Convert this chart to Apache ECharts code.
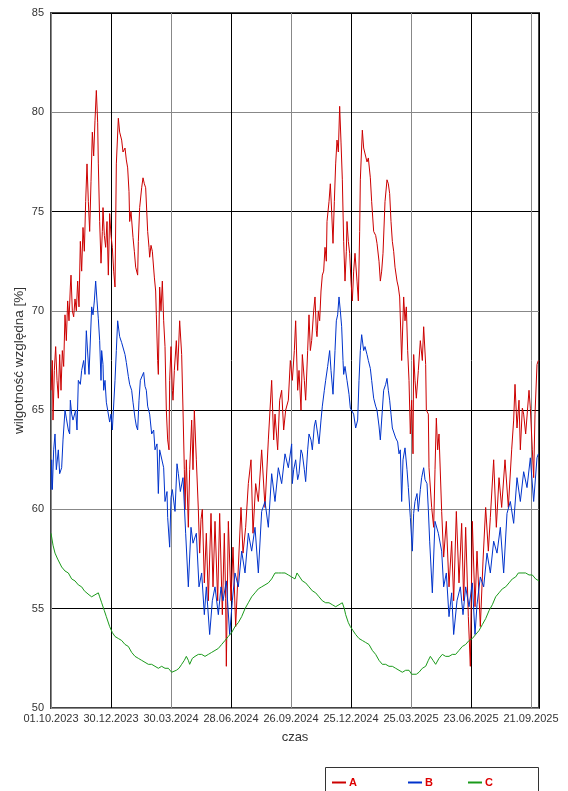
<!DOCTYPE html>
<html>
<head>
<meta charset="utf-8">
<script src="https://cdn.jsdelivr.net/npm/echarts@6/dist/echarts.min.js"></script>
<style>
  html, body { margin: 0; padding: 0; background: #fff; }
  #chart { width: 568px; height: 791px; }
</style>
</head>
<body>
<div id="chart"></div>
<script>
'use strict'
// x = days since 01.10.2023
var xTickLabels = ['01.10.2023', '30.12.2023', '30.03.2024', '28.06.2024', '26.09.2024', '25.12.2024', '25.03.2025', '23.06.2025', '21.09.2025'];

var aDays = [0, 2, 3, 5, 7, 9, 11, 13, 15, 17, 19, 21, 23, 25, 27, 29, 30, 32, 34, 36, 38, 40, 42, 44, 46, 48, 50, 52, 54, 56, 58, 60, 62, 64, 66, 68, 70, 71, 73, 75, 77, 78, 80, 82, 84, 86, 88, 90, 92, 94, 96, 98, 101, 103, 106, 108, 111, 113, 115, 117, 118, 120, 123, 125, 127, 130, 131, 133, 136, 138, 140, 142, 145, 147, 148, 150, 152, 155, 157, 158, 160, 161, 163, 165, 167, 169, 171, 173, 175, 177, 178, 180, 182, 183, 185, 188, 190, 193, 196, 198, 200, 201, 203, 206, 208, 211, 213, 215, 218, 221, 223, 225, 227, 230, 233, 236, 240, 243, 246, 250, 253, 257, 260, 262, 263, 266, 270, 273, 277, 281, 285, 288, 292, 296, 300, 303, 307, 311, 316, 321, 326, 331, 334, 336, 340, 343, 346, 349, 352, 356, 359,
  362, 365, 367, 370, 372, 375, 377, 380, 382, 385, 387, 389, 391, 394, 396, 398, 399, 401, 403, 405, 407, 409, 411, 413, 414, 417, 419, 421, 423, 425, 427, 429, 431, 433, 435, 437, 439, 441, 443, 444, 446, 448, 450, 452, 454, 456, 459, 461, 463, 464, 467, 469, 472, 474, 476, 479, 481, 484, 487, 489, 492, 494, 496, 498, 501, 504, 506, 508, 510, 512, 514, 516, 519, 521, 523, 526, 529, 531, 533, 535, 537, 539, 541, 543, 544, 546, 548, 551, 554, 557, 559, 562, 563, 566, 567, 571, 574, 576, 578, 580, 582, 586, 589, 593, 597, 601, 604, 608, 612, 616, 619, 622, 626, 629, 632, 636, 639, 644, 648, 652, 656, 659, 664, 668, 672, 676, 681, 686, 691, 694, 696, 699, 702, 704, 707, 709, 712, 714, 717, 719, 722, 724, 726, 729, 731];
var aVals = [66.0, 67.5, 64.5, 67.0, 68.2, 66.5, 65.6, 67.8, 66.0, 68.0, 67.2, 69.8, 68.5, 70.5, 69.5, 71.2, 71.8, 70.0, 69.7, 70.6, 70.0, 71.5, 70.2, 73.5, 72.0, 74.2, 73.0, 75.5, 77.4, 75.5, 74.0, 76.5, 79.0, 77.8, 79.6, 81.1, 79.5, 77.4, 74.5, 72.4, 74.0, 75.2, 73.8, 73.2, 74.5, 71.8, 74.9, 73.8, 73.2, 72.0, 71.2, 77.4, 79.7, 79.0, 78.6, 78.0, 78.2, 77.6, 77.2, 76.0, 74.5, 75.0, 73.7, 73.0, 72.2, 71.8, 73.5, 75.2, 76.2, 76.7, 76.4, 76.2, 74.0, 73.2, 72.7, 73.3, 73.0, 71.7, 71.0, 69.8, 67.5, 66.8, 71.2, 70.0, 71.5, 69.5, 68.2, 65.0, 63.5, 63.0, 66.5, 68.2, 66.0, 65.5, 67.0, 68.5, 67.0, 69.5, 67.8, 65.0, 62.0, 60.0, 62.5, 59.1, 62.0, 64.5, 62.0, 65.0, 62.5, 60.0, 57.8, 59.5, 60.0, 56.3, 58.8, 55.4, 59.8, 56.1, 59.4, 55.4, 59.8, 54.7, 58.8, 55.5, 52.1, 59.4, 55.4, 58.1, 54.1, 57.1, 60.1, 57.8, 59.1, 61.3, 62.5, 58.8, 61.3, 60.4, 63.0, 60.1, 63.5, 66.5, 63.5, 64.8, 63.0, 65.5, 66.0, 64.0, 65.0, 65.5, 67.5,
  66.5, 68.0, 69.5, 66.0, 67.0, 65.0, 67.8, 66.5, 65.5, 68.0, 69.8, 68.0, 68.5, 70.0, 70.7, 69.0, 68.7, 70.0, 69.5, 71.0, 71.8, 72.0, 73.2, 72.5, 74.5, 75.5, 76.4, 75.0, 73.4, 75.5, 77.4, 78.6, 78.0, 80.3, 78.5, 76.6, 73.5, 71.5, 73.0, 74.5, 73.5, 72.9, 71.5, 70.5, 72.0, 72.9, 71.5, 70.5, 74.0, 76.6, 79.1, 78.2, 78.1, 77.5, 77.7, 76.7, 75.5, 74.0, 73.8, 73.4, 72.5, 71.5, 72.0, 72.9, 75.5, 76.6, 76.4, 75.9, 74.5, 73.5, 73.0, 72.2, 71.5, 71.2, 70.7, 67.5, 70.7, 69.5, 70.2, 68.0, 66.5, 63.8, 65.5, 62.8, 67.8, 66.5, 65.6, 67.0, 68.5, 67.5, 69.2, 67.3, 65.0, 64.8, 62.1, 60.1, 59.1, 62.0, 64.6, 63.0, 63.8, 59.9, 57.6, 59.4, 56.1, 58.4, 55.4, 59.9, 56.3, 59.3, 55.4, 59.1, 54.6, 52.1, 59.4, 55.1, 57.9, 54.1, 57.4, 60.1, 57.9, 59.6, 62.5, 59.1, 61.6, 60.1, 62.5, 60.1, 63.0, 64.5, 66.3, 64.1, 65.5, 63.0, 65.1, 64.8, 63.8, 63.8, 66.0, 65.1, 63.0, 61.6, 64.8, 67.3, 67.5];

var bDays = [0, 1, 2, 4, 6, 8, 11, 13, 16, 18, 21, 23, 26, 28, 29, 31, 33, 34, 37, 39, 41, 44, 46, 49, 51, 53, 54, 57, 59, 61, 63, 65, 67, 69, 71, 73, 75, 76, 78, 79, 81, 83, 85, 88, 90, 92, 94, 96, 98, 100, 101, 103, 106, 108, 111, 113, 116, 118, 121, 123, 126, 128, 130, 132, 134, 136, 139, 141, 143, 145, 148, 151, 154, 156, 159, 161, 163, 166, 169, 171, 174, 175, 178, 180, 182, 186, 189, 191, 194, 196, 198, 202, 206, 210, 213, 218, 222, 226, 230, 233, 238, 242, 246, 251, 255, 258, 263, 268, 272, 276, 281, 286, 291, 296, 301, 306, 311, 316, 321, 326, 331, 336, 341, 346, 351, 356, 361,
  362, 364, 367, 370, 372, 375, 377, 380, 382, 385, 387, 390, 392, 395, 397, 400, 402, 405, 407, 410, 412, 415, 418, 420, 423, 426, 428, 430, 432, 434, 436, 438, 439, 441, 444, 447, 449, 452, 454, 457, 460, 462, 464, 466, 469, 471, 474, 476, 479, 481, 484, 487, 489, 492, 494, 497, 499, 502, 504, 506, 508, 510, 512, 515, 517, 520, 522, 524, 526, 528, 531, 534, 536, 539, 542, 544, 546, 549, 551, 554, 556, 559, 561, 564, 566, 568, 572, 576, 581, 586, 589, 593, 597, 601, 604, 609, 614, 618, 622, 627, 632, 636, 639, 644, 649, 654, 659, 664, 669, 674, 679, 684, 689, 694, 699, 704, 709, 714, 719, 724, 729, 731];
var bVals = [61.0, 62.5, 61.0, 63.0, 63.8, 62.0, 63.0, 61.8, 62.1, 63.5, 65.0, 64.6, 64.0, 63.8, 65.5, 64.8, 64.5, 64.5, 65.0, 64.0, 66.5, 66.3, 67.0, 67.5, 66.8, 69.0, 68.9, 66.8, 66.7, 70.2, 69.8, 70.5, 71.5, 70.5, 69.6, 68.5, 66.5, 68.0, 67.3, 66.0, 66.5, 65.4, 65.0, 64.4, 64.8, 64.0, 63.9, 66.5, 68.0, 69.5, 69.5, 68.7, 68.4, 68.3, 67.8, 67.4, 66.7, 66.3, 66.0, 65.4, 64.6, 64.2, 64.0, 65.5, 66.5, 66.6, 66.9, 66.2, 66.0, 65.2, 64.8, 63.8, 64.0, 63.0, 63.3, 60.8, 63.0, 63.0, 62.1, 60.4, 60.9, 59.6, 58.1, 60.6, 61.0, 59.9, 62.3, 61.8, 60.9, 61.0, 61.6, 58.8, 56.1, 59.1, 58.3, 58.8, 56.1, 56.8, 54.7, 56.1, 53.7, 55.4, 56.1, 54.7, 56.1, 55.4, 56.4, 53.7, 55.4, 56.8, 56.1, 57.9, 56.8, 58.8, 57.9, 59.1, 56.8, 59.9, 60.4, 59.1, 61.8, 60.4, 62.1, 61.3, 62.8, 62.1, 63.3,
  61.3, 62.0, 62.5, 61.5, 61.8, 63.0, 62.8, 62.0, 61.4, 63.0, 63.8, 63.5, 63.0, 64.2, 64.5, 63.8, 63.3, 64.5, 65.2, 66.0, 66.5, 67.2, 68.0, 67.0, 65.8, 68.0, 69.5, 69.8, 70.7, 70.0, 69.2, 67.5, 66.8, 67.2, 66.5, 65.8, 65.1, 65.1, 64.8, 64.1, 64.5, 66.5, 68.0, 68.8, 68.0, 68.2, 67.8, 67.5, 67.1, 66.5, 65.6, 65.2, 65.0, 64.2, 63.5, 65.0, 66.0, 66.3, 66.6, 66.0, 65.5, 64.8, 64.1, 64.0, 63.6, 63.4, 62.8, 63.0, 60.4, 62.5, 63.1, 62.0, 61.1, 59.6, 57.9, 59.8, 60.4, 60.8, 59.9, 61.0, 61.6, 62.1, 61.5, 61.3, 60.0, 58.4, 55.8, 59.4, 58.8, 57.9, 56.1, 56.8, 54.6, 55.8, 53.7, 55.4, 56.1, 54.7, 56.1, 55.1, 56.3, 53.7, 55.2, 56.6, 56.1, 57.8, 56.8, 58.4, 57.8, 59.1, 56.8, 59.8, 60.4, 59.3, 61.6, 60.4, 61.9, 61.1, 62.6, 60.4, 62.6, 62.8];

var cDays = [0, 3, 6, 10, 16, 21, 26, 31, 36, 41, 46, 50, 53, 57, 61, 66, 71, 73, 76, 80, 83, 88, 92, 96, 101, 106, 111, 116, 121, 126, 131, 136, 141, 146, 151, 156, 161, 166, 171, 176, 181, 184, 188, 192, 196, 200, 203, 206, 208, 212, 216, 221, 226, 231, 236, 241, 246, 251, 256, 261, 266, 271, 276, 281, 286, 291, 296, 301, 306, 311, 316, 321, 326, 331, 336, 339, 341, 346, 351, 356, 361,
  366, 369, 373, 377, 382, 387, 392, 397, 402, 407, 412, 417, 422, 427, 432, 437, 440, 442, 446, 449, 453, 457, 462, 467, 472, 477, 482, 487, 492, 497, 502, 507, 512, 517, 522, 527, 532, 537, 541, 544, 548, 552, 557, 562, 566, 569, 573, 577, 582, 587, 592, 597, 602, 607, 612, 617, 622, 627, 632, 637, 642, 647, 652, 657, 662, 667, 672, 677, 682, 687, 692, 697, 701, 704, 708, 712, 717, 722, 727, 732];
var cVals = [58.8, 58.2, 57.8, 57.5, 57.1, 56.9, 56.8, 56.5, 56.4, 56.2, 56.1, 55.9, 55.8, 55.7, 55.6, 55.7, 55.8, 55.6, 55.3, 54.9, 54.6, 54.1, 53.8, 53.6, 53.5, 53.4, 53.2, 53.1, 52.8, 52.6, 52.5, 52.4, 52.3, 52.2, 52.2, 52.1, 52.0, 52.1, 52.0, 52.0, 51.8, 51.9, 51.9, 52.0, 52.2, 52.4, 52.6, 52.4, 52.2, 52.5, 52.6, 52.7, 52.7, 52.6, 52.7, 52.8, 52.9, 53.0, 53.2, 53.4, 53.6, 53.8, 54.1, 54.3, 54.6, 55.0, 55.3, 55.6, 55.8, 56.0, 56.1, 56.2, 56.3, 56.5, 56.8, 56.9, 56.8, 56.8, 56.8, 56.7, 56.6,
  56.5, 56.8, 56.6, 56.4, 56.3, 56.1, 55.9, 55.8, 55.6, 55.4, 55.3, 55.3, 55.2, 55.1, 55.2, 55.3, 55.0, 54.7, 54.3, 54.1, 53.9, 53.7, 53.5, 53.4, 53.3, 53.2, 52.9, 52.7, 52.4, 52.2, 52.2, 52.1, 52.1, 52.0, 51.9, 51.8, 51.9, 51.9, 51.7, 51.6, 51.7, 51.8, 52.0, 52.1, 52.4, 52.6, 52.4, 52.2, 52.5, 52.7, 52.6, 52.6, 52.7, 52.7, 52.9, 53.1, 53.2, 53.4, 53.5, 53.7, 53.9, 54.2, 54.5, 54.9, 55.2, 55.6, 55.8, 56.0, 56.1, 56.3, 56.5, 56.6, 56.8, 56.9, 56.8, 56.8, 56.7, 56.7, 56.5, 56.4];

function pairs(days, vals) {
	return days.map(function(d, i) { return [d, vals[i]]; });
}

var font = "'Liberation Sans', Arial, sans-serif";
var chart = echarts.init(document.getElementById('chart'), null, { renderer: 'canvas' });

function legendAt(name, left) {
	return {
		data: [name],
		left: left,
		top: 772,
		icon: 'rect',
		itemWidth: 14,
		itemHeight: 2,
		itemGap: 4,
		selectedMode: false,
		textStyle: { color: '#dd0000', fontWeight: 'bold', fontSize: 11, fontFamily: font, padding: [0, 0, 0, -2] }
	};
}

var option = {
	animation: false,
	backgroundColor: '#fff',
	grid: {
		left: 51,
		top: 13,
		right: 29,
		bottom: 83,
		outerBoundsMode: 'none',
		show: true,
		borderColor: '#444',
		borderWidth: 2,
		backgroundColor: 'transparent'
	},
	legend: [legendAt('A', 327), legendAt('B', 403), legendAt('C', 463)],
	xAxis: {
		type: 'value',
		min: 0,
		max: 732,
		interval: 90,
		name: 'czas',
		nameLocation: 'middle',
		nameGap: 23,
		nameMoveOverlap: false,
		nameTextStyle: { color: '#333', fontSize: 13, fontFamily: font },
		axisLine: { show: false },
		axisTick: { show: false },
		axisLabel: {
			color: '#333',
			fontSize: 11,
			fontFamily: font,
			margin: 5,
			showMaxLabel: false,
			formatter: function(v) {
				var i = Math.round(v / 90);
				return (Math.abs(v - i * 90) < 0.01 && xTickLabels[i]) ? xTickLabels[i] : '';
			}
		},
		splitLine: { show: true, lineStyle: { color: ['#888', '#000'], width: 1 } }
	},
	yAxis: {
		type: 'value',
		min: 50,
		max: 85,
		interval: 5,
		name: 'wilgotność względna [%]',
		nameLocation: 'middle',
		nameGap: 25,
		nameMoveOverlap: false,
		nameTextStyle: { color: '#333', fontSize: 13.5, fontFamily: font },
		axisLine: { show: false },
		axisTick: { show: false },
		axisLabel: { color: '#333', fontSize: 11, fontFamily: font, margin: 7 },
		splitLine: { show: true, lineStyle: { color: ['#888', '#000'], width: 1 } }
	},
	graphic: [{
		type: 'rect',
		shape: { x: 325.5, y: 767.5, width: 213, height: 40 },
		style: { fill: 'none', stroke: '#333', lineWidth: 1 },
		z: -1
	}],
	series: [{
		name: 'A',
		type: 'line',
		data: pairs(aDays, aVals),
		showSymbol: false,
		color: '#cc0000',
		lineStyle: { width: 1 },
		z: 3
	}, {
		name: 'B',
		type: 'line',
		data: pairs(bDays, bVals),
		showSymbol: false,
		color: '#0033cc',
		lineStyle: { width: 1 },
		z: 4
	}, {
		name: 'C',
		type: 'line',
		data: pairs(cDays, cVals),
		showSymbol: false,
		color: '#1a9a1a',
		lineStyle: { width: 1 },
		z: 5
	}]
};
chart.setOption(option);
</script>
</body>
</html>
